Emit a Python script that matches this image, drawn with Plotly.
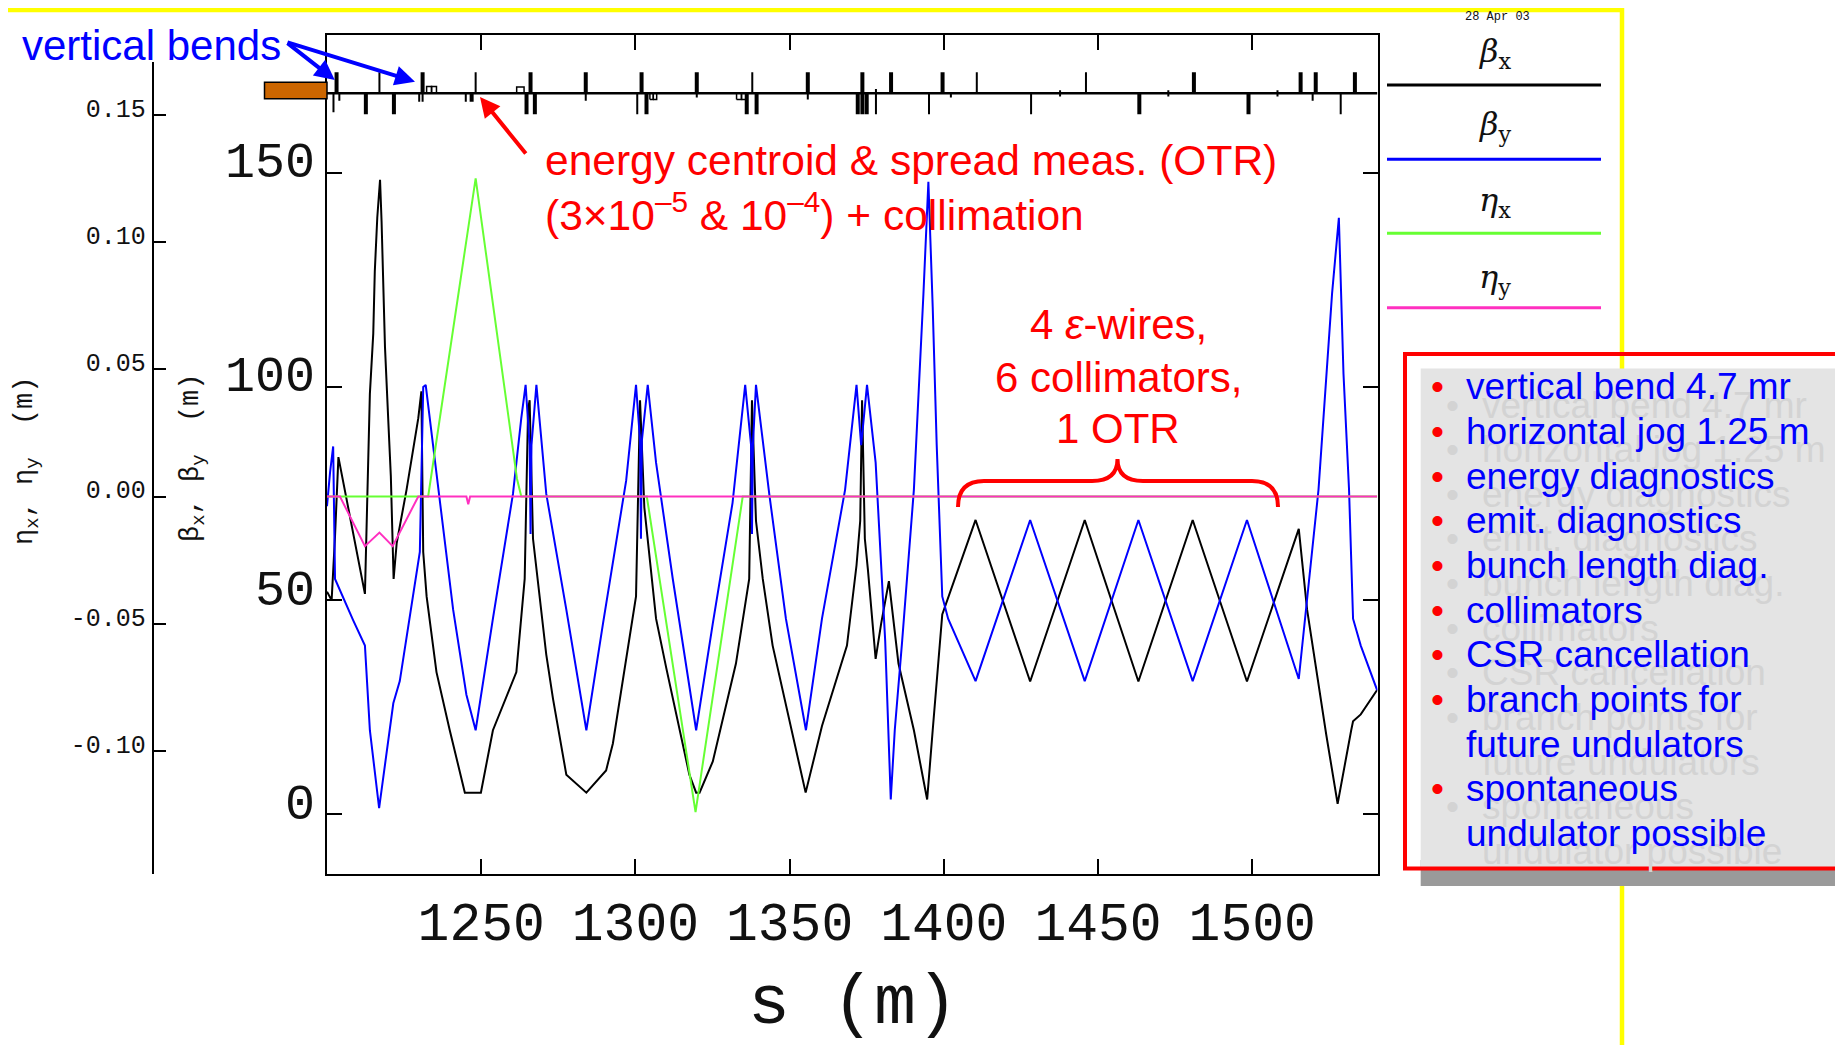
import plotly.graph_objects as go

# the page body has an 8px margin: the figure starts 8px right/down of the window corner
OFF = 8
W, H = 1843 - OFF, 1045 - OFF


def X(px):
    return (px - OFF) / W


def Y(py):
    return 1 - (py - OFF) / H


# ---------------- data ----------------
bx_s = [1200.0, 1201.5, 1202.6, 1203.7, 1212.3, 1212.8, 1213.9, 1215.0, 1215.5, 1216.3, 1217.2, 1217.7,
        1218.8, 1219.9, 1220.7, 1221.6, 1222.6, 1225.8, 1229.6, 1230.6, 1231.2, 1232.3, 1235.5, 1239.8,
        1244.7, 1249.9, 1253.8, 1261.4, 1264.1, 1265.2, 1265.7, 1266.8, 1267.3, 1271.1, 1273.3, 1277.6,
        1284.1, 1290.5, 1292.7, 1300.2, 1301.5, 1302.9, 1306.7, 1310.0, 1317.5, 1319.7, 1320.8, 1325.1,
        1332.6, 1336.9, 1337.8, 1339.1, 1341.3, 1344.5, 1355.2, 1360.5, 1368.6, 1371.7, 1372.9, 1373.5,
        1374.4, 1375.4, 1377.9, 1379.7, 1382.2, 1385.3, 1390.3, 1394.6, 1396.4, 1399.5, 1410.3, 1428.0,
        1445.7, 1463.1, 1480.7, 1498.3, 1515.1, 1517.8, 1524.0, 1527.7, 1532.1, 1532.7, 1535.2, 1540.5]
beta_x = [52, 50, 65, 83.5, 51.5, 68.6, 98.3, 112.4, 127, 139.5, 148.4, 138.5,
          109.3, 91.6, 79, 55, 63.4, 75.9, 92.6, 98.9, 61.3, 50.9, 33.2, 19.6,
          5, 5, 19.6, 33.2, 55, 94.7, 96.8, 64.4, 61.3, 37.3, 26.9, 9.2,
          5, 10.2, 16.5, 50.9, 96.8, 71.7, 45.7, 34.2, 9.2, 5, 5, 12.3,
          35.2, 55, 96.8, 68.6, 55, 39.4, 5, 20.6, 39.4, 58.2, 68.6, 96.8,
          64.4, 57.1, 36.3, 44.6, 54.5, 35.2, 19.6, 3.4, 19.6, 46.7, 68.8, 31,
          68.8, 31, 68.8, 31, 66.7, 47.8, 18.6, 2.4, 19.6, 21.7, 23.3, 29]

by_s = [1200.0, 1201.0, 1202.0, 1202.6, 1208.5, 1212.3, 1213.9, 1216.9, 1221.5, 1223.6, 1230.1, 1231.2,
        1232.0, 1233.3, 1236.6, 1240.9, 1245.2, 1248.2, 1253.8, 1260.3, 1263.0, 1264.4, 1265.7, 1266.0,
        1266.3, 1267.9, 1271.1, 1277.6, 1284.1, 1289.5, 1297.0, 1300.2, 1301.5, 1301.8, 1302.1, 1304.0,
        1306.7, 1312.1, 1319.7, 1325.1, 1331.5, 1335.6, 1337.5, 1337.8, 1338.1, 1339.1, 1343.4, 1348.8,
        1355.3, 1360.5, 1368.0, 1371.7, 1373.2, 1375.1, 1377.9, 1381.0, 1382.8, 1384.1, 1386.5, 1390.3,
        1393.4, 1395.0, 1396.4, 1397.7, 1399.5, 1401.4, 1410.3, 1428.0, 1445.7, 1463.1, 1480.7, 1498.3,
        1515.1, 1517.8, 1521.5, 1525.9, 1527.1, 1528.1, 1529.6, 1531.4, 1532.7, 1535.2, 1540.5]
beta_y = [72, 80, 86, 55, 45.3, 39.4, 19.6, 1.4, 25.9, 31.1, 61.3, 99.9,
          100.4, 92.6, 72.8, 47.8, 27.9, 19.6, 45.7, 74.9, 92.6, 100.4, 86.3, 65.5,
          86.3, 100.4, 74.9, 47.8, 19.6, 44.6, 78, 100.4, 87.4, 64.4, 87.4, 100.4,
          82.2, 55.1, 19.6, 44.6, 72.8, 100.4, 86.3, 65.5, 86.3, 100.4, 74.9, 45.7,
          19.6, 45.7, 75.9, 100.4, 86.3, 100.4, 82.2, 40.5, 3.4, 19.6, 40.5, 75.9,
          121.8, 147.9, 118.7, 86.3, 50.9, 45.7, 31.1, 68.8, 31.1, 68.8, 31.1, 68.8,
          31.6, 50.9, 75.9, 121.8, 131.2, 139.5, 103, 75.9, 45.7, 39.4, 29]

etax_s = [1200.0, 1232.8, 1248.2, 1261.6, 1263.0, 1303.7, 1319.5, 1334.8, 1540.5]
eta_x = [0, 0, 0.125, 0.007, 0, 0, -0.124, 0, 0]

etay_s = [1200.0, 1204.2, 1212.3, 1217.0, 1221.3, 1229.6, 1245.2, 1245.8, 1246.4, 1540.5]
eta_y = [0, 0, -0.0195, -0.0142, -0.0195, 0, 0, -0.003, 0, 0]

# lattice elements (beamline strip): position, lower and upper end
thick_s = [1203.1, 1212.6, 1221.7, 1231.0, 1246.9, 1264.7, 1266.0, 1267.4, 1283.9, 1302.0, 1303.6,
           1319.9, 1336.1, 1339.3, 1355.9, 1372.1, 1373.6, 1375.0, 1382.9, 1399.6, 1463.4, 1481.1,
           1498.8, 1515.7, 1520.6, 1533.3]
thick_lo = [0, -1, -1, 0, -0.4, -1, 0, -1, 0, 0, -1,
            0, -1, -1, 0, -1, -1, -1, 0, 0, -1, 0,
            -1, 0, 0, 0]
thick_hi = [1, 0, 0, 1, 0, 0, 1, 0, 1, 1, 0,
            1, 0, 0, 1, 0, 1, 0, 1, 1, 0, 1,
            0, 1, 1, 1]
thin_s = [1202.1, 1204.0, 1217.0, 1229.9, 1231.0, 1245.0, 1248.2, 1283.9, 1300.6, 1319.9, 1337.9,
          1355.9, 1378.0, 1395.2, 1402.3, 1410.7, 1428.3, 1437.7, 1446.1, 1472.8, 1508.2, 1519.6, 1528.7]
thin_lo = [-0.9, -0.35, 0, -0.4, -0.4, -0.4, 0, -0.35, -1, -0.2, 0,
           -0.3, -1, -1, -0.2, 0, -1, -0.15, 0, -0.15, -0.15, -0.35, -1]
thin_hi = [0, 0, 1, 0, 0, 0, 1, 0, 0, 0, 1,
           0, 0.2, 0, 0, 1, 0, 0.15, 1, 0.15, 0.15, 0, 0]
bend_s0 = [1232.3, 1233.9, 1261.5, 1304.7, 1305.8, 1332.8, 1334.4]
bend_s1 = [1233.9, 1235.5, 1263.9, 1305.8, 1306.9, 1334.4, 1336.1]
bend_lo = [0, 0, 0, -0.3, -0.3, -0.3, -0.3]
bend_hi = [0.32, 0.32, 0.3, 0, 0, 0, 0]

x_ticks = [1250, 1300, 1350, 1400, 1450, 1500]
beta_ticks = [0, 50, 100, 150]
eta_ticks = [-0.10, -0.05, 0.00, 0.05, 0.10, 0.15]

bullets = ["vertical bend 4.7 mr", "horizontal jog 1.25 m", "energy diagnostics",
           "emit. diagnostics", "bunch length diag.", "collimators", "CSR cancellation",
           "branch points for", "future undulators", "spontaneous", "undulator possible"]
bullet_marks = [True, True, True, True, True, True, True, True, False, True, False]

legend_names = ["β<sub>x</sub>", "β<sub>y</sub>", "η<sub>x</sub>", "η<sub>y</sub>"]

# ---------------- styles ----------------
C_BX, C_BY, C_EX, C_EY = "#000000", "#0000ff", "#66ff33", "#ff30c0"
MONO = "Liberation Mono, DejaVu Sans Mono, monospace"
SANS = "Liberation Sans, Arial, sans-serif"
SERIF = "DejaVu Serif, Liberation Serif, serif"

fig = go.Figure()


def segs(s, lo, hi):
    xs, ys = [], []
    for a, b, c in zip(s, lo, hi):
        xs += [a, a, None]
        ys += [b, c, None]
    return xs, ys


def rects(s0, s1, lo, hi):
    xs, ys = [], []
    for a, b, c, d in zip(s0, s1, lo, hi):
        xs += [a, b, b, a, a, None]
        ys += [c, c, d, d, c, None]
    return xs, ys


# lattice strip
fig.add_trace(go.Scatter(x=[1200, 1540.6], y=[0, 0], mode="lines", line=dict(color="black", width=2.5),
                         xaxis="x", yaxis="y3", showlegend=False, hoverinfo="skip"))
xs, ys = segs(thin_s, thin_lo, thin_hi)
fig.add_trace(go.Scatter(x=xs, y=ys, mode="lines", line=dict(color="black", width=2),
                         xaxis="x", yaxis="y3", showlegend=False, hoverinfo="skip"))
xs, ys = segs(thick_s, thick_lo, thick_hi)
fig.add_trace(go.Scatter(x=xs, y=ys, mode="lines", line=dict(color="black", width=4),
                         xaxis="x", yaxis="y3", showlegend=False, hoverinfo="skip"))
xs, ys = rects(bend_s0, bend_s1, bend_lo, bend_hi)
fig.add_trace(go.Scatter(x=xs, y=ys, mode="lines", line=dict(color="black", width=1.5),
                         xaxis="x", yaxis="y3", showlegend=False, hoverinfo="skip"))

# lattice functions
fig.add_trace(go.Scatter(x=bx_s, y=beta_x, mode="lines", line=dict(color=C_BX, width=2),
                         name="βx", xaxis="x", yaxis="y", showlegend=False))
fig.add_trace(go.Scatter(x=by_s, y=beta_y, mode="lines", line=dict(color=C_BY, width=2),
                         name="βy", xaxis="x", yaxis="y", showlegend=False))
fig.add_trace(go.Scatter(x=etax_s, y=eta_x, mode="lines", line=dict(color=C_EX, width=2),
                         name="ηx", xaxis="x", yaxis="y2", showlegend=False))
fig.add_trace(go.Scatter(x=etay_s, y=eta_y, mode="lines", line=dict(color=C_EY, width=2),
                         name="ηy", xaxis="x", yaxis="y2", showlegend=False))

# ---------------- axes ----------------
FR_L, FR_R, FR_T, FR_B = 327, 1377.5, 35.3, 874
B0, BPX = 814.0, 4.274          # beta=0 pixel row, px per metre
E0, EPX = 496.5, 2545.0         # eta=0 pixel row, px per metre
ETA_TOP = 62

fig.update_layout(
    width=W, height=H,
    margin=dict(l=0, r=0, t=0, b=0),
    paper_bgcolor="white", plot_bgcolor="rgba(0,0,0,0)",
    showlegend=False,
    xaxis=dict(domain=[X(FR_L), X(FR_R)], range=[1200, 1200 + (FR_R - FR_L) / 3.084],
               anchor="y", tickvals=x_ticks, ticktext=[str(v) for v in x_ticks],
               ticks="inside", ticklen=15, tickwidth=2, tickcolor="black",
               showline=True, linewidth=2, linecolor="black", mirror="ticks",
               showgrid=False, zeroline=False,
               tickfont=dict(family=MONO, size=53, color="#111"), ticklabelstandoff=0),
    yaxis=dict(domain=[Y(FR_B), Y(FR_T)], range=[-(FR_B - B0) / BPX, (B0 - FR_T) / BPX],
               anchor="x", tickvals=beta_ticks, ticktext=[str(v) for v in beta_ticks],
               ticks="inside", ticklen=15, tickwidth=2, tickcolor="black",
               showline=True, linewidth=2, linecolor="black", mirror="ticks",
               showgrid=False, zeroline=False,
               tickfont=dict(family=MONO, size=50, color="#111"),
               ticklabelstandoff=0, ticklabelshift=-13),
    yaxis2=dict(domain=[Y(FR_B), Y(ETA_TOP)], range=[-(FR_B - E0) / EPX, (E0 - ETA_TOP) / EPX],
                anchor="free", position=X(152.8), side="left",
                tickvals=eta_ticks, ticktext=["%.2f" % v for v in eta_ticks],
                ticks="inside", ticklen=12, tickwidth=2, tickcolor="black",
                showline=True, linewidth=2, linecolor="black",
                showgrid=False, zeroline=False,
                tickfont=dict(family=MONO, size=25, color="#111"),
                ticklabelstandoff=1, ticklabelshift=-7),
    yaxis3=dict(domain=[Y(118), Y(70)], range=[-(118 - 93.3) / 21.0, (93.3 - 70) / 21.0],
                anchor="x", visible=False, showgrid=False, zeroline=False),
)

# ---------------- shapes ----------------
shapes = []
# slide yellow frame
shapes.append(dict(type="rect", xref="paper", yref="paper", x0=X(2.5), x1=X(1622), y0=Y(1070), y1=Y(10),
                   line=dict(color="#ffff00", width=4.5), fillcolor="rgba(0,0,0,0)", layer="below"))
# orange block at the start of the beamline
shapes.append(dict(type="rect", xref="paper", yref="paper", x0=X(264.5), x1=X(327), y0=Y(98.7), y1=Y(82.3),
                   line=dict(color="black", width=1.5), fillcolor="#cc6600"))
# legend lines
for col, yy in zip([C_BX, C_BY, C_EX, C_EY], [85, 159.3, 233.3, 307.7]):
    shapes.append(dict(type="line", xref="paper", yref="paper", x0=X(1387), x1=X(1601), y0=Y(yy), y1=Y(yy),
                       line=dict(color=col, width=3)))
# text box with shadow
shapes.append(dict(type="rect", xref="paper", yref="paper", x0=X(1420.7), x1=X(1850), y0=Y(886), y1=Y(860),
                   line=dict(width=0), fillcolor="#9a9a9a"))
shapes.append(dict(type="rect", xref="paper", yref="paper", x0=X(1420.7), x1=X(1850), y0=Y(868), y1=Y(368.6),
                   line=dict(width=0), fillcolor="#e4e4e4"))
shapes.append(dict(type="rect", xref="paper", yref="paper", x0=X(1405), x1=X(1839), y0=Y(868.6), y1=Y(354),
                   line=dict(color="#ff0000", width=4), fillcolor="rgba(0,0,0,0)"))


# curly brace
def P(x, y):
    return "%.5f %.5f" % (X(x), Y(y))


brace = ("M " + P(958, 507) + " Q " + P(958, 481) + " " + P(984, 481) + " L " + P(1092, 481) +
         " Q " + P(1117.5, 481) + " " + P(1117.5, 459) + " Q " + P(1117.5, 481) + " " + P(1143, 481) +
         " L " + P(1252, 481) + " Q " + P(1278, 481) + " " + P(1278, 507))
shapes.append(dict(type="path", xref="paper", yref="paper", path=brace, line=dict(color="#ff0000", width=4)))
fig.update_layout(shapes=shapes)

# ---------------- annotations ----------------
ann = []


def txt(x, y, text, size, color, family=SANS, xanchor="center", yanchor="middle", angle=0):
    ann.append(dict(x=X(x), y=Y(y), xref="paper", yref="paper", text=text, showarrow=False,
                    font=dict(family=family, size=size, color=color), xanchor=xanchor, yanchor=yanchor,
                    textangle=angle))


# axis titles
txt(853, 1004, "s (m)", 70, "#111", family=MONO)
txt(27, 461, "η<sub>x</sub>, η<sub>y</sub>  (m)", 27, "#111", family=MONO, angle=-90)
txt(193, 458, "β<sub>x</sub>, β<sub>y</sub>  (m)", 27, "#111", family=MONO, angle=-90)

# date stamp
txt(1497, 17, "28 Apr 03", 12, "#111", family=MONO)

# legend labels
for name, yy in zip(legend_names, [53, 126, 202, 279]):
    txt(1495, yy, "<i>" + name.replace("<sub>", "</i><sub>"), 32, "#111", family=SERIF)

# slide annotations
txt(20, 45, "vertical bends", 42, "#0000ff", xanchor="left")
txt(543, 160, "energy centroid &amp; spread meas. (OTR)", 42.5, "#ff0000", xanchor="left")
txt(543, 212, "(3×10<sup>–5</sup> &amp; 10<sup>–4</sup>) + collimation", 42.5, "#ff0000", xanchor="left")
txt(1118, 324, "4 <i>ε</i>-wires,", 42, "#ff0000")
txt(1118, 377, "6 collimators,", 42, "#ff0000")
txt(1118, 428, "1 OTR", 42, "#ff0000")

# bullet box: ghost (shadow) text first, then the real text
LINE0, DL = 387, 44.65
for i, (t, b) in enumerate(zip(bullets, bullet_marks)):
    yy = LINE0 + i * DL
    txt(1480, yy + 18, t, 37, "#d3d3d3", xanchor="left")
    if b:
        txt(1452, yy + 18, "•", 37, "#d3d3d3")
for i, (t, b) in enumerate(zip(bullets, bullet_marks)):
    yy = LINE0 + i * DL
    txt(1464, yy, t, 37, "#0000ff", xanchor="left")
    if b:
        txt(1437, yy, "•", 37, "#ff0000")

# arrows
for hx, hy, tx, ty, col in [(334.8, 80, 286, 42, "#0000ff"), (415, 81.7, 286, 42, "#0000ff"),
                            (480, 97, 527, 155, "#ff0000")]:
    ann.append(dict(x=X(hx), y=Y(hy), xref="paper", yref="paper", ax=tx - hx, ay=ty - hy,
                    axref="pixel", ayref="pixel", text="", showarrow=True, arrowhead=2,
                    arrowsize=1.0, arrowwidth=4, arrowcolor=col))

fig.update_layout(annotations=ann)

fig.write_html("out.html")
